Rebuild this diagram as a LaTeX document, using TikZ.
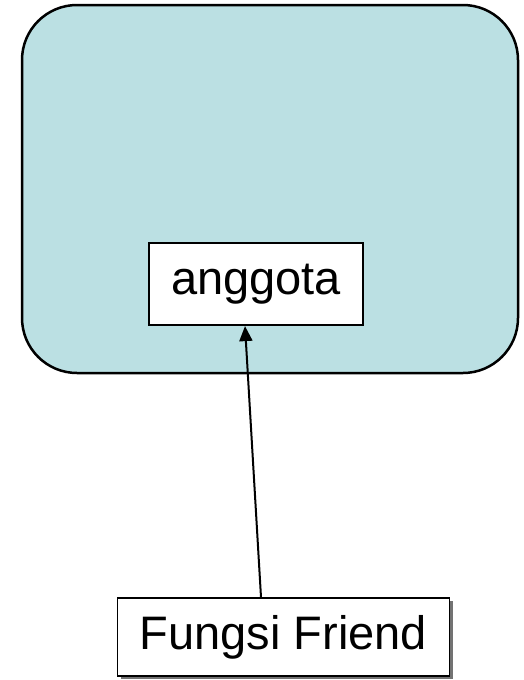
\documentclass[tikz,border=0pt]{standalone}
\usepackage{fontspec}
\setmainfont{Liberation Sans}
\usepackage{xcolor}
\usetikzlibrary{arrows.meta, shadows, positioning}

\definecolor{classfill}{RGB}{187,224,227}

\begin{document}
\begin{tikzpicture}[x=1pt, y=-1pt, font=\fontsize{47}{56}\selectfont,
    classbox/.style={rectangle, rounded corners=55pt, draw, line width=2.5pt, fill=classfill, minimum width=496pt, minimum height=368pt},
    member/.style={rectangle, draw, line width=2.2pt, fill=white, inner sep=0pt, align=center}]

        \useasboundingbox (0,0) rectangle (524,680);

        \node[classbox] (kelas) at (270,189) {};

        \node[member, minimum width=214pt, minimum height=82pt] (anggota) at (256,284) {anggota};

        \node[member, line width=1.6pt, minimum width=332pt, minimum height=78pt,
              drop shadow={shadow xshift=3pt, shadow yshift=-3pt, fill=black!55, opacity=1}]
              (friend) at (283.5,637) {Fungsi Friend};

        \draw[line width=2pt, -{Triangle[length=15pt, width=13pt]}]
        ([xshift=-22.5pt]friend.north) -- ([xshift=-11pt]anggota.south);

    \end{tikzpicture}
\end{document}
